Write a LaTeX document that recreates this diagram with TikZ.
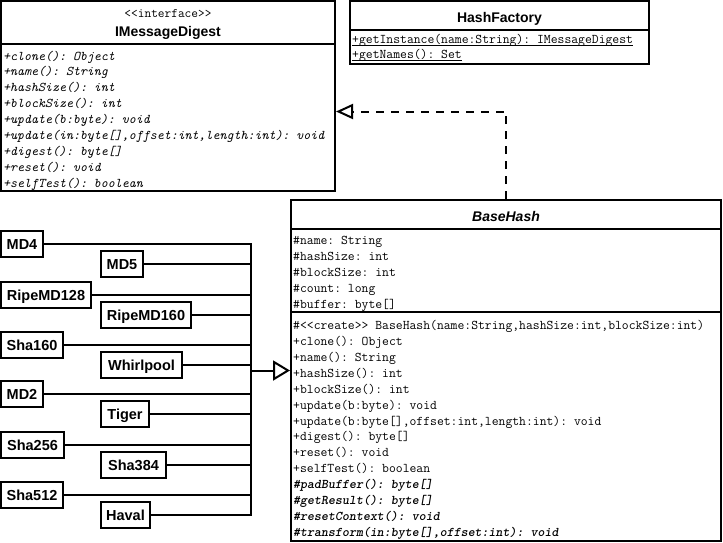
\documentclass[tikz,border=0pt]{standalone}
\usepackage{fontspec}
\setmainfont{Liberation Sans}
\usetikzlibrary{arrows.meta}
\newcommand\memfont{\ttfamily\fontsize{13.3}{16}\selectfont\frenchspacing}
\begin{document}
\begin{tikzpicture}[x=1pt,y=-1pt,
  cls/.style={draw, line width=2pt, rectangle, inner sep=0pt, fill=white},
  sepline/.style={line width=2pt},
  mem/.style={anchor=base west, inner sep=0pt, font=\memfont},
  memi/.style={mem, font=\memfont\itshape},
  memb/.style={mem, font=\memfont\fontseries{b}\fontshape{sl}\selectfont},
  ttl/.style={anchor=base, inner sep=0pt, font=\fontsize{14}{16}\selectfont\bfseries},
  sub/.style={draw, line width=2pt, inner sep=0pt, minimum height=26pt, text height=10.4pt, text depth=0pt, font=\fontsize{14.5}{16}\selectfont\bfseries},
  conn/.style={line width=2pt},
  gen/.style={line width=2pt, -{Triangle[open,length=17pt,width=20pt]}},
  real/.style={line width=2pt, dash pattern=on 8pt off 7pt, -{Triangle[open,length=17pt,width=15pt]}},
  uline/.style={line width=1.2pt}
]
\useasboundingbox (0,0) rectangle (723,542);

% IMessageDigest
\node[cls, minimum width=334pt, minimum height=190pt] (imd) at (168,96) {};
\draw[sepline] (1,44) -- (335,44);
\node[anchor=base, inner sep=0pt, font=\ttfamily\fontsize{13}{16}\selectfont] (imdst) at (168,17) {<\kern0pt<interface>\kern0pt>};
\node[ttl] (imdt) at (168,36) {IMessageDigest};
\foreach \t [count=\i from 0] in {{+clone(): Object},{+name(): String},{+hashSize(): int},{+blockSize(): int},{+update(b:byte): void},{+update(in:byte[],offset:int,length:int): void},{+digest(): byte[]},{+reset(): void},{+selfTest(): boolean}}
  \node[memi] (imd\i) at (3,60+15.95*\i) {\t};

% HashFactory
\node[cls, minimum width=299pt, minimum height=63pt] (hf) at (499.5,32.5) {};
\draw[sepline] (350,30) -- (649,30);
\node[ttl] (hft) at (499.5,22.5) {HashFactory};
\node[mem] (hf0) at (352,43.5) {+getInstance(name:String): IMessageDigest};
\node[mem] (hf1) at (352,58.5) {+getNames(): Set};
\draw[uline] ([yshift=-2pt]hf0.base west) -- ([yshift=-2pt]hf0.base east);
\draw[uline] ([yshift=-2pt]hf1.base west) -- ([yshift=-2pt]hf1.base east);

% BaseHash
\node[cls, minimum width=430pt, minimum height=341pt] (bh) at (506,370.5) {};
\draw[sepline] (291,229) -- (721,229);
\draw[sepline] (291,311.5) -- (721,311.5);
\node[ttl, font=\fontsize{14}{16}\selectfont\bfseries\itshape] (bht) at (506,221.5) {BaseHash};
\foreach \t [count=\i from 0] in {{\#name: String},{\#hashSize: int},{\#blockSize: int},{\#count: long},{\#buffer: byte[]}}
  \node[mem] (bha\i) at (293,244+16*\i) {\t};
\foreach \t [count=\i from 0] in {{\#<\kern0pt<create>\kern0pt> BaseHash(name:String,hashSize:int,blockSize:int)},{+clone(): Object},{+name(): String},{+hashSize(): int},{+blockSize(): int},{+update(b:byte): void},{+update(b:byte[],offset:int,length:int): void},{+digest(): byte[]},{+reset(): void},{+selfTest(): boolean}}
  \node[mem] (bhm\i) at (293,329.5+15.92*\i) {\t};
\foreach \t [count=\i from 10] in {{\#padBuffer(): byte[]},{\#getResult(): byte[]},{\#resetContext(): void},{\#transform(in:byte[],offset:int): void}}
  \node[memb] (bhm\i) at (293,329.5+15.92*\i) {\t};

% realization
\coordinate (bend) at (506,111.5);
\draw[real] (bh.north) -- (bend) -- (bend -| imd.east);

% subclasses
\node[sub, minimum width=42pt] (md4) at (22,244) {MD4};
\node[sub, minimum width=42pt] (md5) at (122,264) {MD5};
\node[sub, minimum width=90pt] (ripe128) at (46,295) {RipeMD128};
\node[sub, minimum width=90pt] (ripe160) at (146,315) {RipeMD160};
\node[sub, minimum width=62pt] (sha160) at (32,345) {Sha160};
\node[sub, minimum width=81pt] (whirl) at (141.5,365) {Whirlpool};
\node[sub, minimum width=42pt] (md2) at (22,394) {MD2};
\node[sub, minimum width=48pt] (tiger) at (125,414) {Tiger};
\node[sub, minimum width=63pt] (sha256) at (32.5,445) {Sha256};
\node[sub, minimum width=65pt] (sha384) at (133.5,465) {Sha384};
\node[sub, minimum width=62pt] (sha512) at (32,495) {Sha512};
\node[sub, minimum width=49pt] (haval) at (125.5,515) {Haval};

\coordinate (busx) at (250.5,370.5);
\draw[conn] (md4.east) -- (md4.east -| busx) -- (haval.east -| busx) -- (haval.east);
\foreach \n in {md5,ripe128,ripe160,sha160,whirl,md2,tiger,sha256,sha384,sha512}
  \draw[conn] (\n.east) -- (\n.east -| busx);
\draw[gen] (busx) -- (bh.west);
\end{tikzpicture}
\end{document}
